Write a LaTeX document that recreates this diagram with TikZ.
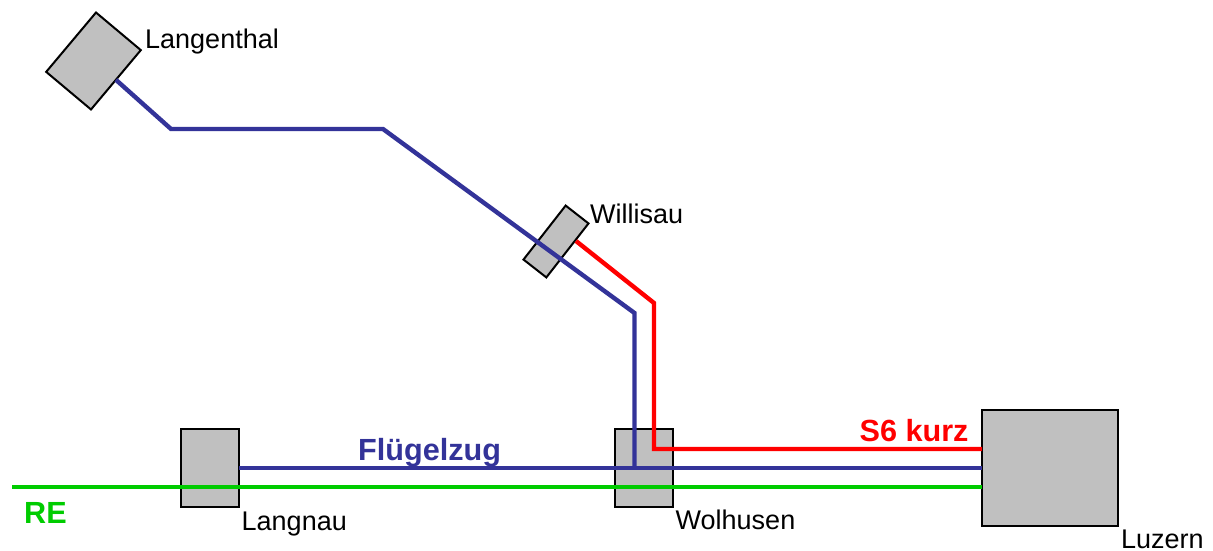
\documentclass[tikz,border=0pt]{standalone}
\usepackage{fontspec}
\setmainfont{Liberation Sans}
\definecolor{fzblue}{HTML}{333399}
\definecolor{s6red}{HTML}{FF0000}
\definecolor{regreen}{HTML}{00CC00}
\definecolor{stgray}{HTML}{C0C0C0}
\tikzset{
  station/.style={draw=black,fill=stgray,line width=2pt,inner sep=0pt,outer sep=0pt,minimum width=#1},
  track/.style={line width=4.4pt,line join=miter},
  lbl/.style={anchor=base west,inner sep=0pt,font=\fontsize{27}{30}\selectfont},
  lblb/.style={anchor=base west,inner sep=0pt,font=\fontsize{30.6}{34}\selectfont\bfseries},
}
\begin{document}
\begin{tikzpicture}[x=1pt,y=-1pt]
\useasboundingbox (0,0) rectangle (1213,551);
\fill[white] (0,0) rectangle (1213,551);
% stations
\node[station=58pt,minimum height=78pt] (langnau) at (210,468) {};
\node[station=58pt,minimum height=78pt] (wolhusen) at (644,468) {};
\node[station=136pt,minimum height=116pt] (luzern) at (1050,468) {};
\node[station=58.5pt,minimum height=77.5pt,rotate=-40] (langenthal) at (93.5,61) {};
\node[station=29pt,minimum height=68.5pt,rotate=-38] (willisau) at (556,241.5) {};
% bends
\coordinate (re0) at (12,487);
\coordinate (b1) at (171,129);
\coordinate (b2) at (383,129);
\coordinate (b3) at (634.5,313);
\coordinate (b4) at (634.5,468);
\coordinate (r0) at (576,241);
\coordinate (r1) at (654,303);
\coordinate (r2) at (654,449);
% tracks
\draw[track,regreen] (re0) -- (re0 -| luzern.west);
\draw[track,fzblue] (langnau.east) -- (luzern.west);
\draw[track,fzblue] (langenthal.east) -- (b1) -- (b2) -- (b3) -- (b4);
\draw[track,s6red] (r0) -- (r1) -- (r2) -- (r2 -| luzern.west);
% labels
\node[lbl] (tlangenthal) at (145,49) {Langenthal};
\node[lbl] (twillisau) at (590,223) {Willisau};
\node[lbl] (tlangnau) at (241.5,530) {Langnau};
\node[lbl] (twolhusen) at (675.5,529) {Wolhusen};
\node[lbl] (tluzern) at (1121,548.5) {Luzern};
\node[lblb,text=fzblue] (tflug) at (358,460) {Flügelzug};
\node[lblb,text=s6red] (ts6) at (859.5,441) {S6 kurz};
\node[lblb,text=regreen] (tre) at (24,523) {RE};
\end{tikzpicture}
\end{document}
